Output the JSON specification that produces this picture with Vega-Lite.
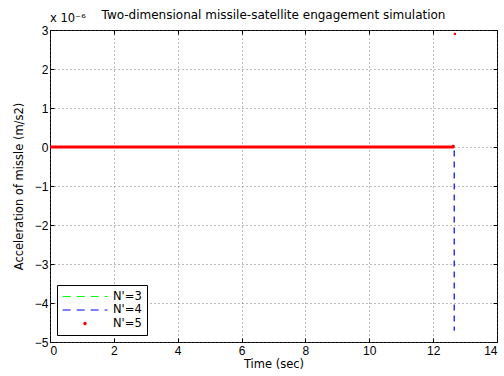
{
  "$schema": "https://vega.github.io/schema/vega-lite/v6.json",
  "autosize": "none",
  "padding": {"left": 50, "top": 30, "right": 7, "bottom": 34},
  "width": 447,
  "height": 312,
  "background": "white",
  "config": {
    "font": "DejaVu Sans",
    "view": {"stroke": "black", "strokeWidth": 1},
    "axis": {
      "labelFont": "Liberation Sans",
      "titleFont": "DejaVu Sans",
      "labelFontSize": 12,
      "titleFontSize": 11.5,
      "titleFontWeight": "normal",
      "labelColor": "black",
      "titleColor": "black",
      "labelOverlap": false,
      "domain": false,
      "tickColor": "black",
      "tickSize": -4,
      "labelPadding": 7,
      "grid": true,
      "gridColor": "#555555",
      "gridDash": [1, 3],
      "gridOpacity": 0.8
    }
  },
  "title": {
    "text": "Two-dimensional missile-satellite engagement simulation",
    "font": "DejaVu Sans",
    "fontSize": 12,
    "fontWeight": "normal",
    "color": "black",
    "offset": -9
  },
  "resolve": {"axis": {"x": "independent", "y": "independent"}},
  "data": {
    "values": [
      {"series": "N'=3", "t": 0, "a": 0},
      {"series": "N'=3", "t": 12.6, "a": 0},
      {"series": "N'=3", "t": 12.66, "a": -0.12},
      {"series": "N'=4", "t": 0, "a": 0},
      {"series": "N'=4", "t": 12.6, "a": 0},
      {"series": "N'=4", "t": 12.66, "a": -0.02},
      {"series": "N'=4", "t": 12.66, "a": -4.71},
      {"series": "N'=5", "t": 0, "a": 0},
      {"series": "N'=5", "t": 12.62, "a": 0},
      {"series": "N'=5", "t": 12.65, "a": 0.05}
    ]
  },
  "layer": [
    {
      "mark": {"type": "line", "clip": true},
      "transform": [{"filter": "datum.series !== \"N'=5\""}],
      "encoding": {
        "x": {"field": "t", "type": "quantitative", "scale": {"domain": [0, 14], "nice": false}, "axis": {"values": [0, 2, 4, 6, 8, 10, 12, 14], "tickCount": 20, "format": "d", "title": "Time (sec)", "titlePadding": 2}},
        "y": {"field": "a", "type": "quantitative", "scale": {"domain": [-5, 3], "nice": false, "zero": false}, "axis": {"values": [-5, -4, -3, -2, -1, 0, 1, 2, 3], "tickCount": 20, "format": "d", "labelPadding": 6, "title": "Acceleration of missle (m/s2)", "titlePadding": 10}},
        "color": {
          "field": "series", "type": "nominal",
          "scale": {"domain": ["N'=3", "N'=4", "N'=5"], "range": ["#00ff00", "#0000ff", "#ff0000"]},
          "legend": {
            "orient": "bottom-left",
            "offset": 7,
            "title": null,
            "fillColor": "white",
            "strokeColor": "black",
            "padding": 5,
            "symbolType": "stroke",
            "symbolDash": [8, 6],
            "symbolStrokeWidth": 1.2,
            "symbolSize": 2000,
            "clipHeight": 13,
            "labelFontSize": 11.5,
            "labelFont": "DejaVu Sans",
            "labelColor": "black",
            "labelOffset": 5,
            "rowPadding": 0.5,
            "encode": {
              "symbols": {
                "update": {
                  "shape": {"signal": "datum.index === 2 ? 'circle' : 'stroke'"},
                  "fill": {"signal": "datum.index === 2 ? '#ff0000' : 'transparent'"},
                  "stroke": {"signal": "datum.index === 2 ? 'transparent' : (datum.index === 0 ? '#44ff44' : '#5555ff')"},
                  "size": {"signal": "datum.index === 2 ? 5 : 2000"}
                }
              }
            }
          }
        },
        "strokeDash": {"value": [6, 5]},
        "strokeWidth": {"value": 1.2}
      }
    },
    {
      "mark": {"type": "line", "color": "#ff0000", "strokeWidth": 3, "clip": true},
      "transform": [{"filter": "datum.series === \"N'=5\""}],
      "encoding": {
        "x": {"field": "t", "type": "quantitative", "axis": null},
        "y": {"field": "a", "type": "quantitative", "axis": null}
      }
    },
    {
      "data": {"values": [{"series": "N'=5", "t": 12.68, "a": 2.9}]},
      "mark": {"type": "square", "color": "#ff0000", "size": 5, "opacity": 1},
      "encoding": {
        "x": {"field": "t", "type": "quantitative", "axis": {"orient": "top", "values": [0, 2, 4, 6, 8, 10, 12, 14], "tickCount": 20, "labels": false, "title": null, "grid": false}},
        "y": {"field": "a", "type": "quantitative", "axis": {"orient": "right", "values": [-5, -4, -3, -2, -1, 0, 1, 2, 3], "tickCount": 20, "labels": false, "title": null, "grid": false}}
      }
    },
    {
      "data": {"values": [{"label": "x 10⁻⁶", "t": 0, "a": 3}]},
      "mark": {"type": "text", "align": "left", "baseline": "bottom", "dy": -6, "fontSize": 11.5, "font": "DejaVu Sans", "color": "black"},
      "encoding": {
        "x": {"field": "t", "type": "quantitative", "axis": null},
        "y": {"field": "a", "type": "quantitative", "axis": null},
        "text": {"field": "label"}
      }
    }
  ]
}
